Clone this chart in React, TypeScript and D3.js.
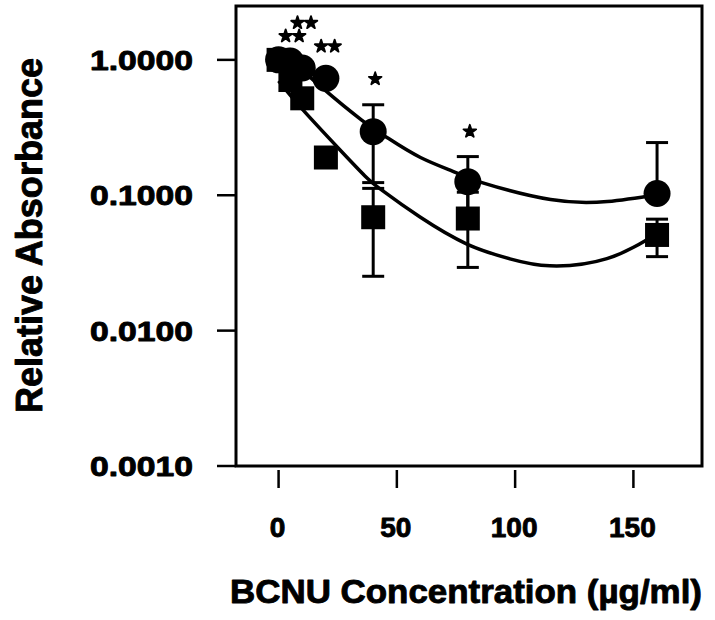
import React from "react";
import * as d3 from "d3";

// ---- data ----
const concentrations = [0, 5, 10, 20, 40, 80, 160];
const circleMeans = [1.0, 0.98, 0.87, 0.73, 0.295, 0.126, 0.103];
const circleErrors = [0, 0, 0, 0, 0.171, 0.067, 0.142];
const squareMeans = [1.0, 0.71, 0.52, 0.19, 0.0688, 0.0673, 0.0509];
const squareErrors = [0, 0, 0, 0, 0.0436, 0.038, 0.0157];

const circleFitX = [0, 18, 35, 46, 60, 75, 86, 115, 139, 160];
const circleFitY = [1.2, 0.632, 0.361, 0.266, 0.19, 0.147, 0.124, 0.0929, 0.0899, 0.101];
const squareFitX = [0, 10.3, 26, 36.5, 44.1, 59.8, 79.6, 97.8, 114.7, 138.8, 160.4];
const squareFitY = [0.7, 0.427, 0.216, 0.139, 0.1076, 0.069, 0.0436, 0.0339, 0.0301, 0.034, 0.0527];

const starX = [5, 10, 20, 40, 80];
const starY = [1.5, 1.88, 1.26, 0.724, 0.296];
const starCount = [2, 2, 2, 1, 1];

const xTicks = [0, 50, 100, 150];
const yTicks = [1, 0.1, 0.01, 0.001];
const xTitle = "BCNU Concentration (µg/ml)";
const yTitle = "Relative Absorbance";

const FONT = "'Liberation Sans', Arial, Helvetica, sans-serif";

export default function App() {
  const W = 715, H = 620;
  const x = d3.scaleLinear().domain([-18, 179]).range([236, 702]);
  const y = d3.scaleLog().domain([0.001, 2.5]).range([466, 6]);
  const [x0, x1] = x.range();
  const [y0, y1] = y.range();

  const line = d3
    .line<[number, number]>()
    .x((d) => x(d[0]))
    .y((d) => y(d[1]))
    .curve(d3.curveNatural);

  const circleFit = line(circleFitX.map((v, i) => [v, circleFitY[i]] as [number, number])) || "";
  const squareFit = line(squareFitX.map((v, i) => [v, squareFitY[i]] as [number, number])) || "";

  const star = d3.symbol().type(d3.symbolStar).size(50)() || "";
  const fmt = d3.format(".4f");
  const capW = 11;
  const sq = 24;
  const r = 13.5;

  const errorBars = (means: number[], errs: number[], key: string) =>
    concentrations.map((c, i) => {
      const e = errs[i];
      if (!e) return null;
      const cx = x(c);
      const top = y(means[i] + e);
      const lowVal = means[i] - e;
      const bottom = lowVal > 0 ? y(lowVal) : y(means[i]);
      return (
        <g key={key + i} stroke="#000" strokeWidth={3}>
          <line x1={cx} x2={cx} y1={top} y2={bottom} />
          <line x1={cx - capW} x2={cx + capW} y1={top} y2={top} />
          {lowVal > 0 && <line x1={cx - capW} x2={cx + capW} y1={bottom} y2={bottom} />}
        </g>
      );
    });

  return (
    <svg
      width={W}
      height={H}
      style={{ position: "absolute", left: 0, top: 0, background: "#fff" }}
      fontFamily={FONT}
      fontWeight="bold"
    >
      <rect x={0} y={0} width={W} height={H} fill="#fff" />
      {/* frame */}
      <rect x={x0} y={y1} width={x1 - x0} height={y0 - y1} fill="none" stroke="#000" strokeWidth={3} />

      <g stroke="#000" strokeWidth={0.9} strokeLinejoin="round">
        {/* y ticks */}
        {yTicks.map((t) => (
          <g key={"yt" + t}>
            <line x1={x0 - 19} x2={x0} y1={y(t)} y2={y(t)} stroke="#000" strokeWidth={2.5} />
            <text
              x={193}
              y={y(t) + 10}
              textAnchor="end"
              fontSize={28}
              textLength={103}
              lengthAdjust="spacingAndGlyphs"
            >
              {fmt(t)}
            </text>
          </g>
        ))}

        {/* x ticks */}
        {xTicks.map((t) => (
          <g key={"xt" + t}>
            <line x1={x(t)} x2={x(t)} y1={y0 + 4} y2={y0 + 22} stroke="#000" strokeWidth={2.5} />
            <text x={x(t) - 1} y={537} textAnchor="middle" fontSize={28}>
              {t}
            </text>
          </g>
        ))}

        {/* titles */}
        <text x={466} y={603} textAnchor="middle" fontSize={33} textLength={472} lengthAdjust="spacingAndGlyphs">
          {xTitle}
        </text>
        <text
          transform={`translate(42, 235.5) rotate(-90)`}
          textAnchor="middle"
          fontSize={36}
          textLength={355}
          lengthAdjust="spacingAndGlyphs"
        >
          {yTitle}
        </text>
      </g>

      {/* fitted curves */}
      <path d={circleFit} fill="none" stroke="#000" strokeWidth={3.5} />
      <path d={squareFit} fill="none" stroke="#000" strokeWidth={3.5} />

      {/* error bars */}
      {errorBars(squareMeans, squareErrors, "se")}
      {errorBars(circleMeans, circleErrors, "ce")}

      {/* squares */}
      {concentrations.map((c, i) => (
        <rect
          key={"sq" + i}
          x={x(c) - sq / 2}
          y={y(squareMeans[i]) - sq / 2}
          width={sq}
          height={sq}
          fill="#000"
        />
      ))}
      {/* circles */}
      {concentrations.map((c, i) => (
        <circle key={"ci" + i} cx={x(c)} cy={y(circleMeans[i])} r={r} fill="#000" />
      ))}

      {/* significance stars */}
      {starX.map((c, i) => {
        const n = starCount[i];
        const cx = x(c) + 2;
        const cy = y(starY[i]);
        return (
          <g key={"st" + i}>
            {d3.range(n).map((k) => (
              <path
                key={k}
                d={star}
                transform={`translate(${cx + (k - (n - 1) / 2) * 13.5}, ${cy})`}
                fill="#000"
                stroke="#000"
                strokeWidth={1.8}
                strokeLinejoin="round"
              />
            ))}
          </g>
        );
      })}
    </svg>
  );
}
